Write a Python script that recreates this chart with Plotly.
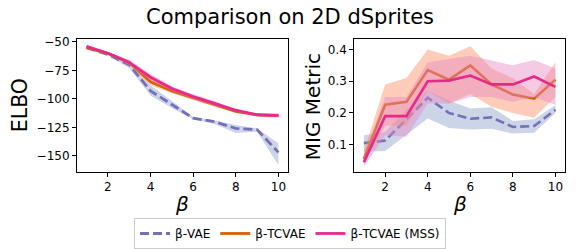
import plotly.graph_objects as go

beta = [1, 2, 3, 4, 5, 6, 7, 8, 9, 10]

# ELBO
elbo_vae = [-55, -61, -70, -93, -105, -117, -120, -126, -127, -147]
elbo_vae_lo = [-56, -62, -73, -97, -108, -118, -122, -130, -129, -158]
elbo_vae_hi = [-54, -60, -68, -88, -102, -116, -119, -123, -126, -139]

elbo_tc = [-55, -60, -68, -85, -93, -99, -105, -111, -114, -115]
elbo_tc_lo = [-56, -61, -70, -88, -95, -101, -107, -112, -115, -116]
elbo_tc_hi = [-54, -59, -66, -82, -91, -97, -103, -110, -113, -113]

elbo_mss = [-54, -60, -68, -81, -91, -98, -104, -110, -114, -114.5]
elbo_mss_lo = [-55, -61, -70, -84, -93, -100, -106, -111, -115, -116]
elbo_mss_hi = [-53, -59, -66, -78, -89, -96, -102, -109, -113, -113]

# MIG
mig_vae = [0.105, 0.113, 0.18, 0.248, 0.2, 0.182, 0.186, 0.156, 0.159, 0.21]
mig_vae_lo = [0.078, 0.08, 0.13, 0.183, 0.153, 0.148, 0.15, 0.135, 0.138, 0.2]
mig_vae_hi = [0.13, 0.14, 0.21, 0.271, 0.239, 0.214, 0.218, 0.175, 0.18, 0.225]

mig_tc = [0.055, 0.226, 0.235, 0.335, 0.305, 0.35, 0.29, 0.258, 0.245, 0.305]
mig_tc_lo = [0.04, 0.16, 0.16, 0.27, 0.23, 0.26, 0.22, 0.2, 0.185, 0.25]
mig_tc_hi = [0.08, 0.29, 0.31, 0.4, 0.38, 0.41, 0.34, 0.31, 0.26, 0.36]

mig_mss = [0.045, 0.19, 0.19, 0.3, 0.302, 0.318, 0.29, 0.29, 0.315, 0.282]
mig_mss_lo = [0.03, 0.13, 0.125, 0.23, 0.23, 0.25, 0.25, 0.235, 0.25, 0.225]
mig_mss_hi = [0.07, 0.25, 0.25, 0.36, 0.37, 0.38, 0.365, 0.35, 0.367, 0.34]

names = ["β-VAE", "β-TCVAE", "β-TCVAE (MSS)"]
line_colors = ["#7570b3", "#d95f02", "#e7298a"]
band_colors = ["rgba(141,160,203,0.45)", "rgba(252,141,98,0.45)", "rgba(231,138,195,0.45)"]
dashes = ["9px,4px", "solid", "solid"]

fig = go.Figure()

def add_series(xa, ya, y, lo, hi, i, show, width):
    fig.add_trace(go.Scatter(x=beta + beta[::-1], y=hi + lo[::-1], fill="toself",
                             fillcolor=band_colors[i], line=dict(width=0),
                             hoverinfo="skip", showlegend=False, xaxis=xa, yaxis=ya))
    fig.add_trace(go.Scatter(x=beta, y=y, mode="lines", name=names[i],
                             line=dict(color=line_colors[i], width=width, dash=dashes[i]),
                             showlegend=show, xaxis=xa, yaxis=ya))

add_series("x", "y", elbo_vae, elbo_vae_lo, elbo_vae_hi, 0, True, 2.8)
add_series("x", "y", elbo_tc, elbo_tc_lo, elbo_tc_hi, 1, True, 2.8)
add_series("x", "y", elbo_mss, elbo_mss_lo, elbo_mss_hi, 2, True, 2.8)
add_series("x2", "y2", mig_vae, mig_vae_lo, mig_vae_hi, 0, False, 2.6)
add_series("x2", "y2", mig_tc, mig_tc_lo, mig_tc_hi, 1, False, 2.6)
add_series("x2", "y2", mig_mss, mig_mss_lo, mig_mss_hi, 2, False, 2.6)

ax_common = dict(showline=True, linecolor="black", linewidth=1, mirror=True,
                 ticks="outside", ticklen=4, tickcolor="black", showgrid=False,
                 zeroline=False, tickfont=dict(size=12, color="black"))

fig.update_layout(
    width=581, height=249,
    margin=dict(l=0, r=0, t=0, b=0),
    paper_bgcolor="white", plot_bgcolor="white",
    font=dict(family="DejaVu Sans", color="black"),
    xaxis=dict(domain=[0.1325, 0.4957], range=[0.55, 10.45], tickvals=[2, 4, 6, 8, 10], anchor="y", **ax_common),
    yaxis=dict(domain=[0.3012, 0.8554], range=[-164, -47.2], tickvals=[-150, -125, -100, -75, -50], anchor="x", **ax_common),
    xaxis2=dict(domain=[0.6098, 0.9725], range=[0.55, 10.45], tickvals=[2, 4, 6, 8, 10], anchor="y2", **ax_common),
    yaxis2=dict(domain=[0.3012, 0.8554], range=[0.015, 0.434], tickvals=[0.1, 0.2, 0.3, 0.4],
                ticktext=["0.1", "0.2", "0.3", "0.4"], anchor="x2", **ax_common),
    showlegend=True,
    legend=dict(orientation="h", x=290 / 581, xanchor="center", y=1 - 222 / 249, yanchor="top",
                bordercolor="#cccccc", borderwidth=1, bgcolor="white",
                font=dict(size=12, color="black")),
    annotations=[
        dict(text="Comparison on 2D dSprites", x=290 / 581, y=1 - 14 / 249, xref="paper", yref="paper",
             showarrow=False, font=dict(size=21), xanchor="center", yanchor="middle"),
        dict(text="ELBO", x=20 / 581, y=1 - 105 / 249, xref="paper", yref="paper", textangle=-90,
             showarrow=False, font=dict(size=20.5), xanchor="center", yanchor="middle"),
        dict(text="MIG Metric", x=312.5 / 581, y=1 - 106.5 / 249, xref="paper", yref="paper", textangle=-90,
             showarrow=False, font=dict(size=20), xanchor="center", yanchor="middle"),
        dict(text="<i>β</i>", x=182 / 581, y=1 - 207 / 249, xref="paper", yref="paper",
             showarrow=False, font=dict(size=20), xanchor="center", yanchor="middle"),
        dict(text="<i>β</i>", x=459.6 / 581, y=1 - 207 / 249, xref="paper", yref="paper",
             showarrow=False, font=dict(size=20), xanchor="center", yanchor="middle"),
    ],
)

fig.write_html("out.html", config={"displayModeBar": False},
               post_script="document.body.style.margin='0';")
